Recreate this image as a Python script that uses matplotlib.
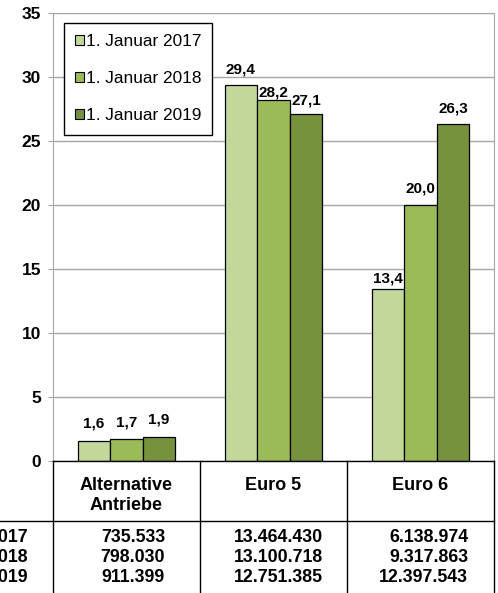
import matplotlib.pyplot as plt
import numpy as np

plt.rcParams['font.family'] = ['Liberation Sans', 'DejaVu Sans']

categories = ['Alternative\nAntriebe', 'Euro 5', 'Euro 6']
series = ['1. Januar 2017', '1. Januar 2018', '1. Januar 2019']
values = [[1.6, 29.4, 13.4],
          [1.7, 28.2, 20.0],
          [1.9, 27.1, 26.3]]
labels = [['1,6', '29,4', '13,4'],
          ['1,7', '28,2', '20,0'],
          ['1,9', '27,1', '26,3']]
counts = [['735.533', '13.464.430', '6.138.974'],
          ['798.030', '13.100.718', '9.317.863'],
          ['911.399', '12.751.385', '12.397.543']]
colors = ['#C4D79B', '#9BBB59', '#76923C']

# label offsets (points above bar top)
label_dy = [[7, 5.6, 2.7],
            [7, 0.6, 7],
            [7, 4.9, 6.3]]

W, H = 498, 593
fig = plt.figure(figsize=(W / 100, H / 100), dpi=100)

# plot area in pixels: left 53, right 494, top 13, bottom 461
ax = fig.add_axes([53 / W, 1 - 461 / H, (494 - 53) / W, (461 - 13) / H])

x = np.arange(len(categories))
bw = 0.222
for i in range(3):
    pos = x + (i - 1) * bw
    ax.bar(pos, values[i], bw, color=colors[i], edgecolor='black',
           linewidth=0.9, label=series[i], zorder=3)
    for j in range(3):
        ax.annotate(labels[i][j], (pos[j], values[i][j]), xytext=(0, label_dy[i][j]),
                    textcoords='offset points', ha='center', va='bottom',
                    fontsize=11, fontweight='bold')

ax.set_xlim(-0.5, 2.5)
ax.set_ylim(0, 35)
ax.set_yticks(range(0, 36, 5))
ax.set_yticklabels([str(v) for v in range(0, 36, 5)], fontsize=12.5, fontweight='bold')
ax.set_xticks([])
ax.yaxis.grid(True, color='#a6a6a6', linewidth=1, zorder=0)
ax.tick_params(axis='y', length=3.6, color='#a6a6a6', pad=5)
for s in ['left', 'right', 'top']:
    ax.spines[s].set_color('#a6a6a6')
ax.spines['bottom'].set_visible(False)

leg = ax.legend(loc='upper left', bbox_to_anchor=(0.025, 0.978), fontsize=12.4,
                frameon=True, fancybox=False, edgecolor='black', framealpha=1,
                handlelength=0.5, handleheight=0.5, handletextpad=0.1,
                labelspacing=1.29, borderpad=0.65, borderaxespad=0)
leg.get_frame().set_linewidth(1)
for h in leg.legend_handles:
    h.set_linewidth(0.8)

# table below the chart, drawn in pixel coordinates
tab = fig.add_axes([0, 0, 1, 1])
tab.set_xlim(0, W)
tab.set_ylim(H, 0)
tab.axis('off')
for xv in [53, 200, 347, 494]:
    tab.plot([xv, xv], [461, H], color='black', linewidth=1)
tab.plot([53, 494], [461, 461], color='black', linewidth=1)
tab.plot([0, 494], [521, 521], color='black', linewidth=1)

centers = [126.5, 273.5, 420.5]
for j, c in enumerate(categories):
    tab.text(centers[j], 477.5, c, ha='center', va='top', fontsize=13,
             fontweight='bold', linespacing=1.2)

rights = [165, 323, 468]
row_y = [537, 558, 578]
for i in range(3):
    tab.text(28, row_y[i], series[i], ha='right', va='center', fontsize=12.8,
             fontweight='bold')
    for j in range(3):
        tab.text(rights[j], row_y[i], counts[i][j], ha='right', va='center',
                 fontsize=12.8, fontweight='bold')

fig.savefig('out.png', dpi=100)
